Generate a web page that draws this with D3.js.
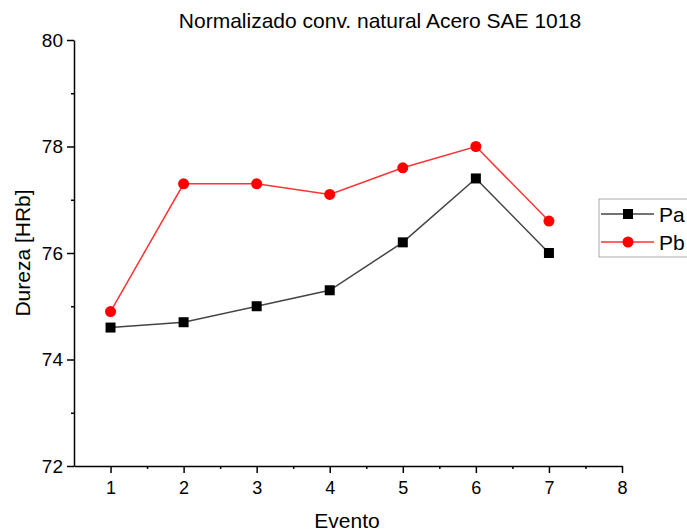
<!DOCTYPE html>
<html><head><meta charset="utf-8">
<script src="https://cdn.jsdelivr.net/npm/d3@7"></script>
<style>body{margin:0;background:#fff}svg{display:block}text{font-family:Arial,"Liberation Sans",sans-serif}</style>
</head><body>
<svg id="c" width="687" height="531"></svg>
<script>
const eventos = [1,2,3,4,5,6,7];
const pa = [74.6,74.7,75.0,75.3,76.2,77.4,76.0];
const pb = [74.9,77.3,77.3,77.1,77.6,78.0,76.6];
const xTicks = [1,2,3,4,5,6,7,8];
const yTicks = [72,74,76,78,80];
const seriesNames = ["Pa","Pb"];

const svg = d3.select("#c");
const x = d3.scaleLinear().domain([0.5,8]).range([74,622]);
const y = d3.scaleLinear().domain([72,80]).range([466,40]);

// axes
const xa = svg.append("g").attr("transform","translate(0,466)")
  .call(d3.axisBottom(x).tickValues(xTicks).tickSize(7).tickSizeOuter(0).tickPadding(8).tickFormat(d3.format("d")));
const xm = svg.append("g").attr("transform","translate(0,466)")
  .call(d3.axisBottom(x).tickValues(d3.range(1.5,8,1)).tickSize(3).tickFormat(""));
xm.select(".domain").remove();
const ya = svg.append("g").attr("transform","translate(74,0)")
  .call(d3.axisLeft(y).tickValues(yTicks).tickSize(7).tickSizeOuter(0).tickPadding(4).tickFormat(d3.format("d")));
const ym = svg.append("g").attr("transform","translate(74,0)")
  .call(d3.axisLeft(y).tickValues([73,75,77,79]).tickSize(3).tickFormat(""));
ym.select(".domain").remove();
svg.selectAll(".domain, .tick line").attr("stroke","#000").attr("stroke-width",1.5);
xa.selectAll("text").style("font-size","18px").attr("fill","#000");
ya.selectAll("text").style("font-size","19px").attr("fill","#000");

// lines
const line = d3.line().x((d,i)=>x(eventos[i])).y(d=>y(d));
svg.append("path").datum(pa).attr("d",line).attr("fill","none").attr("stroke","#444").attr("stroke-width",1.5);
svg.append("path").datum(pb).attr("d",line).attr("fill","none").attr("stroke","#ff3333").attr("stroke-width",1.5);
svg.append("g").selectAll("rect").data(pa).join("rect")
  .attr("x",(d,i)=>x(eventos[i])-5).attr("y",d=>y(d)-5).attr("width",10).attr("height",10).attr("fill","#000");
svg.append("g").selectAll("circle").data(pb).join("circle")
  .attr("cx",(d,i)=>x(eventos[i])).attr("cy",d=>y(d)).attr("r",5.5).attr("fill","#ff0000");

// title & labels
svg.append("text").attr("x",380).attr("y",28).attr("text-anchor","middle").attr("font-size",21).text("Normalizado conv. natural Acero SAE 1018");
svg.append("text").attr("x",347).attr("y",528).attr("text-anchor","middle").attr("font-size",21).text("Evento");
svg.append("text").attr("transform","translate(30,253) rotate(-90)").attr("text-anchor","middle").attr("font-size",21).text("Dureza [HRb]");

// legend
const lg = svg.append("g");
lg.append("rect").attr("x",599).attr("y",199).attr("width",100).attr("height",58).attr("fill","#fff").attr("stroke","#aaa").attr("stroke-width",1);
const ly = [214,242];
lg.append("line").attr("x1",601).attr("x2",654).attr("y1",ly[0]).attr("y2",ly[0]).attr("stroke","#444").attr("stroke-width",1.5);
lg.append("rect").attr("x",623).attr("y",ly[0]-5).attr("width",10).attr("height",10).attr("fill","#000");
lg.append("line").attr("x1",601).attr("x2",654).attr("y1",ly[1]).attr("y2",ly[1]).attr("stroke","#ff3333").attr("stroke-width",1.5);
lg.append("circle").attr("cx",628).attr("cy",ly[1]).attr("r",5.5).attr("fill","#ff0000");
lg.selectAll("text.l").data(seriesNames).join("text").attr("class","l")
  .attr("x",659).attr("y",(d,i)=>ly[i]+8).attr("font-size",21).text(d=>d);
</script>
</body></html>
